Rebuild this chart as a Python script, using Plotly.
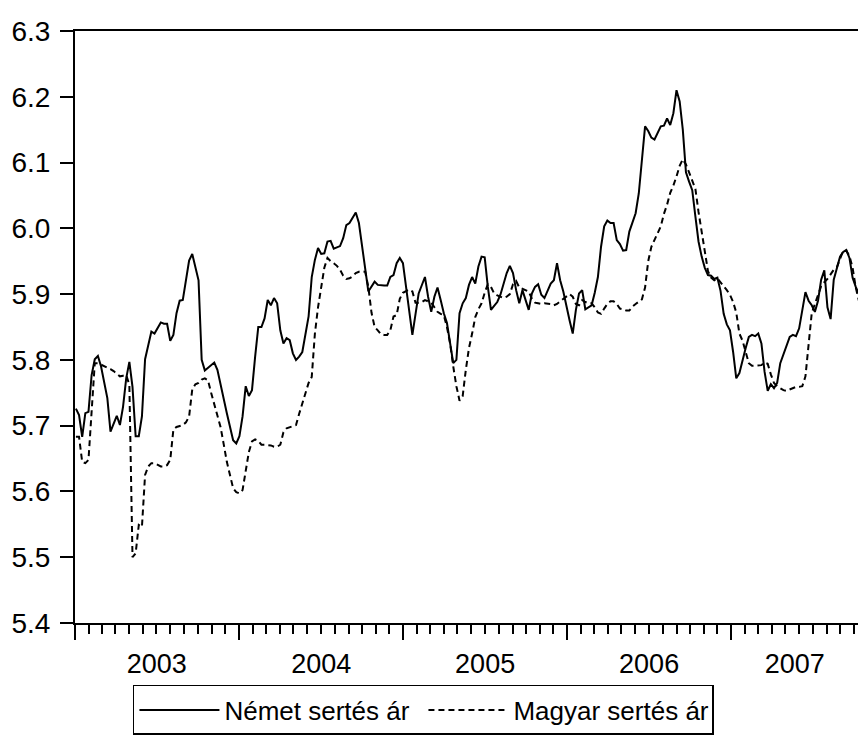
import plotly.graph_objects as go
from datetime import date, timedelta

# ---------------- data (weekly observations, week 0 = first week of 2003) ----------------
series_names = ["Német sertés ár", "Magyar sertés ár"]
start_day = date(2003, 1, 3)

german_week = [
    0, 1, 2, 3, 4, 5, 6, 7, 8, 10, 11, 13, 14, 15, 16, 17, 18, 19, 20, 21,
    22, 24, 25, 27, 28, 29, 30, 31, 32, 33, 34, 36, 37, 39, 40, 41, 44, 45, 48, 50,
    51, 52, 53, 54, 55, 56, 57, 58, 59, 60, 61, 62, 63, 64, 65, 66, 67, 68, 69, 70,
    71, 72, 74, 75, 76, 77, 78, 79, 80, 81, 82, 84, 85, 86, 87, 88, 89, 90, 91, 92,
    93, 95, 96, 98, 99, 100, 101, 102, 103, 104, 106, 107, 109, 110, 111, 112, 113, 114, 115, 116,
    117, 118, 120, 121, 122, 123, 124, 125, 126, 127, 128, 129, 130, 131, 132, 133, 134, 135, 136, 137,
    138, 139, 140, 141, 142, 143, 144, 145, 146, 147, 148, 149, 150, 151, 152, 153, 154, 155, 157, 158,
    159, 160, 161, 162, 164, 165, 166, 167, 168, 169, 170, 171, 172, 173, 174, 175, 176, 177, 178, 179,
    180, 181, 182, 183, 184, 185, 186, 187, 188, 189, 190, 191, 192, 193, 194, 195, 196, 197, 198, 199,
    200, 201, 202, 203, 204, 205, 206, 207, 208, 209, 210, 211, 212, 213, 214, 215, 216, 217, 218, 219,
    220, 221, 222, 223, 224, 225, 226, 227, 228, 229, 230, 231, 232, 233, 234, 235, 236, 237, 238, 239,
    240, 241, 242, 243, 244, 245, 246, 247, 248, 249,
]
german_price = [
    5.726, 5.716, 5.683, 5.719, 5.721, 5.777, 5.801, 5.806, 5.790, 5.742, 5.691, 5.715, 5.701, 5.729, 5.772, 5.797, 5.759, 5.684, 5.684, 5.714,
    5.801, 5.843, 5.840, 5.857, 5.855, 5.855, 5.829, 5.838, 5.871, 5.890, 5.891, 5.951, 5.961, 5.921, 5.800, 5.784, 5.796, 5.785, 5.719, 5.678,
    5.673, 5.684, 5.714, 5.760, 5.745, 5.754, 5.805, 5.850, 5.850, 5.863, 5.891, 5.883, 5.894, 5.886, 5.845, 5.825, 5.833, 5.830, 5.810, 5.800,
    5.805, 5.812, 5.866, 5.926, 5.952, 5.970, 5.961, 5.962, 5.980, 5.981, 5.969, 5.973, 5.985, 6.005, 6.008, 6.015, 6.024, 6.008, 5.972, 5.932,
    5.904, 5.919, 5.914, 5.913, 5.913, 5.926, 5.929, 5.947, 5.955, 5.947, 5.878, 5.838, 5.901, 5.914, 5.926, 5.896, 5.873, 5.896, 5.910, 5.891,
    5.871, 5.856, 5.795, 5.800, 5.871, 5.886, 5.894, 5.914, 5.926, 5.916, 5.942, 5.957, 5.956, 5.911, 5.876, 5.882, 5.888, 5.899, 5.916, 5.932,
    5.943, 5.932, 5.906, 5.886, 5.906, 5.891, 5.876, 5.901, 5.911, 5.915, 5.899, 5.894, 5.904, 5.916, 5.921, 5.947, 5.921, 5.904, 5.860, 5.840,
    5.876, 5.901, 5.906, 5.877, 5.883, 5.902, 5.926, 5.972, 6.003, 6.012, 6.008, 6.008, 5.982, 5.976, 5.966, 5.967, 5.995, 6.008, 6.023, 6.053,
    6.099, 6.155, 6.148, 6.138, 6.135, 6.145, 6.155, 6.156, 6.167, 6.157, 6.175, 6.210, 6.193, 6.150, 6.085, 6.071, 6.058, 6.018, 5.980, 5.957,
    5.940, 5.929, 5.928, 5.923, 5.925, 5.905, 5.870, 5.854, 5.845, 5.812, 5.772, 5.780, 5.800, 5.818, 5.835, 5.838, 5.836, 5.840, 5.825, 5.782,
    5.753, 5.763, 5.757, 5.765, 5.795, 5.808, 5.822, 5.835, 5.838, 5.836, 5.848, 5.873, 5.903, 5.890, 5.883, 5.873, 5.890, 5.922, 5.936, 5.880,
    5.862, 5.922, 5.939, 5.957, 5.964, 5.967, 5.955, 5.925, 5.911, 5.900,
]

hungarian_price = [
    5.683, 5.683, 5.645, 5.643, 5.648, 5.725, 5.795, 5.795, 5.793, 5.790, 5.789, 5.786, 5.783, 5.779, 5.775, 5.776, 5.777, 5.762, 5.500, 5.506,
    5.549, 5.546, 5.625, 5.638, 5.643, 5.643, 5.640, 5.638, 5.638, 5.640, 5.648, 5.694, 5.698, 5.699, 5.701, 5.705, 5.714, 5.755, 5.763, 5.765,
    5.770, 5.772, 5.769, 5.750, 5.734, 5.715, 5.698, 5.672, 5.645, 5.625, 5.605, 5.599, 5.597, 5.602, 5.630, 5.660, 5.676, 5.679, 5.677, 5.671,
    5.671, 5.671, 5.670, 5.668, 5.668, 5.671, 5.690, 5.696, 5.698, 5.699, 5.701, 5.718, 5.735, 5.752, 5.765, 5.774, 5.840, 5.880, 5.910, 5.940,
    5.955, 5.950, 5.947, 5.943, 5.937, 5.928, 5.923, 5.924, 5.927, 5.932, 5.934, 5.935, 5.934, 5.911, 5.872, 5.850, 5.845, 5.839, 5.838, 5.838,
    5.845, 5.866, 5.868, 5.893, 5.902, 5.905, 5.907, 5.904, 5.887, 5.887, 5.888, 5.891, 5.889, 5.887, 5.880, 5.873, 5.870, 5.868, 5.850, 5.825,
    5.790, 5.760, 5.738, 5.745, 5.785, 5.818, 5.840, 5.865, 5.877, 5.886, 5.902, 5.915, 5.911, 5.901, 5.898, 5.896, 5.894, 5.896, 5.900, 5.915,
    5.920, 5.910, 5.908, 5.906, 5.904, 5.893, 5.887, 5.886, 5.885, 5.886, 5.886, 5.885, 5.883, 5.885, 5.889, 5.893, 5.897, 5.900, 5.896, 5.885,
    5.883, 5.891, 5.888, 5.886, 5.886, 5.880, 5.872, 5.870, 5.878, 5.885, 5.889, 5.889, 5.885, 5.878, 5.877, 5.875, 5.875, 5.881, 5.885, 5.889,
    5.892, 5.910, 5.950, 5.972, 5.983, 5.992, 6.003, 6.022, 6.036, 6.054, 6.065, 6.079, 6.095, 6.105, 6.097, 6.085, 6.072, 6.060, 6.025, 5.995,
    5.962, 5.935, 5.925, 5.921, 5.924, 5.918, 5.913, 5.906, 5.899, 5.888, 5.872, 5.840, 5.829, 5.810, 5.795, 5.791, 5.791, 5.791, 5.792, 5.796,
    5.794, 5.778, 5.765, 5.760, 5.757, 5.754, 5.753, 5.755, 5.758, 5.759, 5.759, 5.760, 5.775, 5.825, 5.871, 5.885, 5.900, 5.912, 5.918, 5.923,
    5.930, 5.937, 5.941, 5.955, 5.966, 5.966, 5.958, 5.940, 5.910, 5.890,
]
hungarian_week = list(range(len(hungarian_price)))

year_labels = ["2003", "2004", "2005", "2006", "2007"]
y_ticks = [5.4, 5.5, 5.6, 5.7, 5.8, 5.9, 6.0, 6.1, 6.2, 6.3]

assert len(german_week) == len(german_price)

x_start = date(2003, 1, 1)
x_end = date(2007, 10, 10)


def to_dates(weeks):
    return [start_day + timedelta(days=7 * w) for w in weeks]


# label positions: middle of the visible part of each year
label_pos = []
for lab in year_labels:
    y = int(lab)
    a = max(date(y, 1, 1), x_start)
    b = min(date(y + 1, 1, 1), x_end)
    label_pos.append(a + (b - a) / 2)
year_bounds = [date(int(l), 1, 1) for l in year_labels]

FONT = "Liberation Sans, Arial, sans-serif"

fig = go.Figure()
fig.add_trace(go.Scatter(
    x=to_dates(german_week), y=german_price, mode="lines", name=series_names[0],
    line=dict(color="black", width=2),
))
fig.add_trace(go.Scatter(
    x=to_dates(hungarian_week), y=hungarian_price, mode="lines", name=series_names[1],
    line=dict(color="black", width=2, dash="6px,4px"), xaxis="x2",
))

fig.update_layout(
    width=858, height=756,
    margin=dict(l=75, r=0, t=31, b=133),
    paper_bgcolor="white", plot_bgcolor="white",
    font=dict(family=FONT, size=26, color="black"),
    showlegend=True,
    legend=dict(
        orientation="h", x=0.074, xanchor="left", y=-0.1047, yanchor="top",
        bordercolor="black", borderwidth=1.5, bgcolor="white",
        itemwidth=80, entrywidth=194, font=dict(size=26),
    ),
    xaxis=dict(
        type="date", range=[x_start, x_end],
        tickmode="array", tickvals=year_bounds, showticklabels=False,
        ticks="outside", ticklen=15, tickwidth=2, tickcolor="black",
        minor=dict(dtick="M1", ticks="outside", ticklen=9, tickwidth=2, tickcolor="black", showgrid=False),
        showline=True, linecolor="black", linewidth=2, mirror=True,
        showgrid=False, zeroline=False,
    ),
    xaxis2=dict(
        type="date", range=[x_start, x_end], overlaying="x", side="bottom", anchor="y",
        tickmode="array", tickvals=label_pos, ticktext=year_labels,
        ticks="", showline=False, showgrid=False, zeroline=False,
        ticklabelstandoff=22, tickfont=dict(size=27),
    ),
    yaxis=dict(
        range=[5.4, 6.3], tickmode="array", tickvals=y_ticks, tickformat=".1f",
        ticks="outside", ticklen=13, tickwidth=2, tickcolor="black",
        showline=True, linecolor="black", linewidth=2,
        showgrid=False, zeroline=False, ticklabelstandoff=4,
        tickfont=dict(size=28),
    ),
)

fig.write_html(
    "out.html",
    config={"displayModeBar": False},
    post_script="document.body.style.margin='0';document.body.style.overflow='hidden';",
)
